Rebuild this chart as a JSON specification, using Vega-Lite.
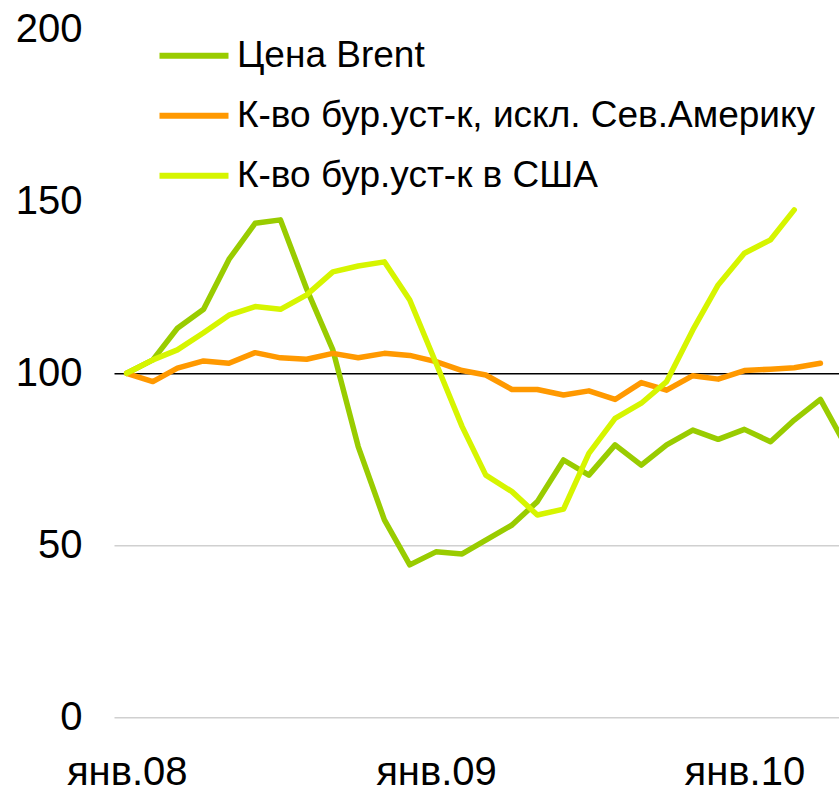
{
  "$schema": "https://vega.github.io/schema/vega-lite/v6.json",
  "width": 725,
  "height": 688,
  "autosize": {"type": "none"},
  "padding": {"left": 114, "top": 29.3, "right": 0, "bottom": 74.7},
  "background": "white",
  "config": {"view": {"stroke": null}, "font": "Liberation Sans"},
  "data": {
    "values": [
      {"date": "2008-01-01", "series": "Цена Brent", "value": 100},
      {"date": "2008-02-01", "series": "Цена Brent", "value": 103.9},
      {"date": "2008-03-01", "series": "Цена Brent", "value": 113.1},
      {"date": "2008-04-01", "series": "Цена Brent", "value": 118.6},
      {"date": "2008-05-01", "series": "Цена Brent", "value": 133.1},
      {"date": "2008-06-01", "series": "Цена Brent", "value": 143.6},
      {"date": "2008-07-01", "series": "Цена Brent", "value": 144.6},
      {"date": "2008-08-01", "series": "Цена Brent", "value": 124.5},
      {"date": "2008-09-01", "series": "Цена Brent", "value": 106.8},
      {"date": "2008-10-01", "series": "Цена Brent", "value": 78.7},
      {"date": "2008-11-01", "series": "Цена Brent", "value": 57.4},
      {"date": "2008-12-01", "series": "Цена Brent", "value": 44.3},
      {"date": "2009-01-01", "series": "Цена Brent", "value": 48.1},
      {"date": "2009-02-01", "series": "Цена Brent", "value": 47.5},
      {"date": "2009-03-01", "series": "Цена Brent", "value": 51.5},
      {"date": "2009-04-01", "series": "Цена Brent", "value": 55.9},
      {"date": "2009-05-01", "series": "Цена Brent", "value": 62.7},
      {"date": "2009-06-01", "series": "Цена Brent", "value": 74.8},
      {"date": "2009-07-01", "series": "Цена Brent", "value": 70.4},
      {"date": "2009-08-01", "series": "Цена Brent", "value": 79.2},
      {"date": "2009-09-01", "series": "Цена Brent", "value": 73.3},
      {"date": "2009-10-01", "series": "Цена Brent", "value": 79.2},
      {"date": "2009-11-01", "series": "Цена Brent", "value": 83.5},
      {"date": "2009-12-01", "series": "Цена Brent", "value": 80.8},
      {"date": "2010-01-01", "series": "Цена Brent", "value": 83.7},
      {"date": "2010-02-01", "series": "Цена Brent", "value": 80.1},
      {"date": "2010-03-01", "series": "Цена Brent", "value": 86.4},
      {"date": "2010-04-01", "series": "Цена Brent", "value": 92.4},
      {"date": "2010-05-01", "series": "Цена Brent", "value": 79},
      {"date": "2008-01-01", "series": "К-во бур.уст-к, искл. Сев.Америку", "value": 100},
      {"date": "2008-02-01", "series": "К-во бур.уст-к, искл. Сев.Америку", "value": 97.6},
      {"date": "2008-03-01", "series": "К-во бур.уст-к, искл. Сев.Америку", "value": 101.5},
      {"date": "2008-04-01", "series": "К-во бур.уст-к, искл. Сев.Америку", "value": 103.6},
      {"date": "2008-05-01", "series": "К-во бур.уст-к, искл. Сев.Америку", "value": 102.9},
      {"date": "2008-06-01", "series": "К-во бур.уст-к, искл. Сев.Америку", "value": 106.0},
      {"date": "2008-07-01", "series": "К-во бур.уст-к, искл. Сев.Америку", "value": 104.5},
      {"date": "2008-08-01", "series": "К-во бур.уст-к, искл. Сев.Америку", "value": 104.1},
      {"date": "2008-09-01", "series": "К-во бур.уст-к, искл. Сев.Америку", "value": 105.8},
      {"date": "2008-10-01", "series": "К-во бур.уст-к, искл. Сев.Америку", "value": 104.5},
      {"date": "2008-11-01", "series": "К-во бур.уст-к, искл. Сев.Америку", "value": 105.8},
      {"date": "2008-12-01", "series": "К-во бур.уст-к, искл. Сев.Америку", "value": 105.2},
      {"date": "2009-01-01", "series": "К-во бур.уст-к, искл. Сев.Америку", "value": 103.4},
      {"date": "2009-02-01", "series": "К-во бур.уст-к, искл. Сев.Америку", "value": 100.8},
      {"date": "2009-03-01", "series": "К-во бур.уст-к, искл. Сев.Америку", "value": 99.5},
      {"date": "2009-04-01", "series": "К-во бур.уст-к, искл. Сев.Америку", "value": 95.3},
      {"date": "2009-05-01", "series": "К-во бур.уст-к, искл. Сев.Америку", "value": 95.3},
      {"date": "2009-06-01", "series": "К-во бур.уст-к, искл. Сев.Америку", "value": 93.7},
      {"date": "2009-07-01", "series": "К-во бур.уст-к, искл. Сев.Америку", "value": 94.9},
      {"date": "2009-08-01", "series": "К-во бур.уст-к, искл. Сев.Америку", "value": 92.4},
      {"date": "2009-09-01", "series": "К-во бур.уст-к, искл. Сев.Америку", "value": 97.3},
      {"date": "2009-10-01", "series": "К-во бур.уст-к, искл. Сев.Америку", "value": 95.1},
      {"date": "2009-11-01", "series": "К-во бур.уст-к, искл. Сев.Америку", "value": 99.3},
      {"date": "2009-12-01", "series": "К-во бур.уст-к, искл. Сев.Америку", "value": 98.3},
      {"date": "2010-01-01", "series": "К-во бур.уст-к, искл. Сев.Америку", "value": 100.8},
      {"date": "2010-02-01", "series": "К-во бур.уст-к, искл. Сев.Америку", "value": 101.2},
      {"date": "2010-03-01", "series": "К-во бур.уст-к, искл. Сев.Америку", "value": 101.6},
      {"date": "2010-04-01", "series": "К-во бур.уст-к, искл. Сев.Америку", "value": 102.9},
      {"date": "2008-01-01", "series": "К-во бур.уст-к в США", "value": 100},
      {"date": "2008-02-01", "series": "К-во бур.уст-к в США", "value": 103.9},
      {"date": "2008-03-01", "series": "К-во бур.уст-к в США", "value": 106.8},
      {"date": "2008-04-01", "series": "К-во бур.уст-к в США", "value": 111.8},
      {"date": "2008-05-01", "series": "К-во бур.уст-к в США", "value": 116.9},
      {"date": "2008-06-01", "series": "К-во бур.уст-к в США", "value": 119.4},
      {"date": "2008-07-01", "series": "К-во бур.уст-к в США", "value": 118.6},
      {"date": "2008-08-01", "series": "К-во бур.уст-к в США", "value": 122.8},
      {"date": "2008-09-01", "series": "К-во бур.уст-к в США", "value": 129.5},
      {"date": "2008-10-01", "series": "К-во бур.уст-к в США", "value": 131.2},
      {"date": "2008-11-01", "series": "К-во бур.уст-к в США", "value": 132.4},
      {"date": "2008-12-01", "series": "К-во бур.уст-к в США", "value": 121.3},
      {"date": "2009-01-01", "series": "К-во бур.уст-к в США", "value": 103},
      {"date": "2009-02-01", "series": "К-во бур.уст-к в США", "value": 84.5},
      {"date": "2009-03-01", "series": "К-во бур.уст-к в США", "value": 70.4},
      {"date": "2009-04-01", "series": "К-во бур.уст-к в США", "value": 65.6},
      {"date": "2009-05-01", "series": "К-во бур.уст-к в США", "value": 58.8},
      {"date": "2009-06-01", "series": "К-во бур.уст-к в США", "value": 60.5},
      {"date": "2009-07-01", "series": "К-во бур.уст-к в США", "value": 76.7},
      {"date": "2009-08-01", "series": "К-во бур.уст-к в США", "value": 86.9},
      {"date": "2009-09-01", "series": "К-во бур.уст-к в США", "value": 91.3},
      {"date": "2009-10-01", "series": "К-во бур.уст-к в США", "value": 97.6},
      {"date": "2009-11-01", "series": "К-во бур.уст-к в США", "value": 112.6},
      {"date": "2009-12-01", "series": "К-во бур.уст-к в США", "value": 125.7},
      {"date": "2010-01-01", "series": "К-во бур.уст-к в США", "value": 134.9},
      {"date": "2010-02-01", "series": "К-во бур.уст-к в США", "value": 138.8},
      {"date": "2010-03-01", "series": "К-во бур.уст-к в США", "value": 147.5}
    ]
  },
  "mark": {"type": "line", "strokeWidth": 5.5, "clip": true, "strokeJoin": "round", "strokeCap": "round"},
  "encoding": {
    "x": {
      "field": "date",
      "type": "temporal",
      "scale": {
        "type": "utc",
        "domain": [
          {"year": 2007, "month": 12, "date": 17, "utc": true},
          {"year": 2010, "month": 4, "date": 23, "utc": true}
        ]
      },
      "axis": {
        "title": null,
        "values": [
          {"year": 2008, "month": 1, "date": 1, "utc": true},
          {"year": 2009, "month": 1, "date": 1, "utc": true},
          {"year": 2010, "month": 1, "date": 1, "utc": true}
        ],
        "labelExpr": "'янв.' + utcFormat(datum.value, '%y')",
        "labelFontSize": 40,
        "labelColor": "#000000",
        "labelPadding": 35,
        "ticks": false,
        "domain": false,
        "grid": false
      }
    },
    "y": {
      "field": "value",
      "type": "quantitative",
      "scale": {"domain": [0, 200], "nice": false},
      "axis": {
        "title": null,
        "values": [0, 50, 100, 150, 200],
        "labelFontSize": 40,
        "labelColor": "#000000",
        "labelPadding": 32,
        "ticks": false,
        "domain": false,
        "grid": true,
        "gridWidth": 1.6,
        "gridColor": {"condition": {"test": "datum.value === 100", "value": "#000000"}, "value": "#d0d0d0"},
        "gridOpacity": {"condition": {"test": "datum.value >= 150", "value": 0}, "value": 1}
      }
    },
    "color": {
      "field": "series",
      "type": "nominal",
      "sort": null,
      "scale": {
        "domain": ["Цена Brent", "К-во бур.уст-к, искл. Сев.Америку", "К-во бур.уст-к в США"],
        "range": ["#99cc00", "#ff9900", "#d6f500"]
      },
      "legend": {
        "orient": "none",
        "direction": "vertical",
        "legendX": 42.5,
        "legendY": -11,
        "title": null,
        "symbolType": "stroke",
        "symbolSize": 4761,
        "symbolStrokeWidth": 6,
        "labelFontSize": 37,
        "labelColor": "#000000",
        "labelOffset": 5.5,
        "labelLimit": 1000,
        "rowPadding": 4,
        "padding": 0
      }
    }
  }
}
